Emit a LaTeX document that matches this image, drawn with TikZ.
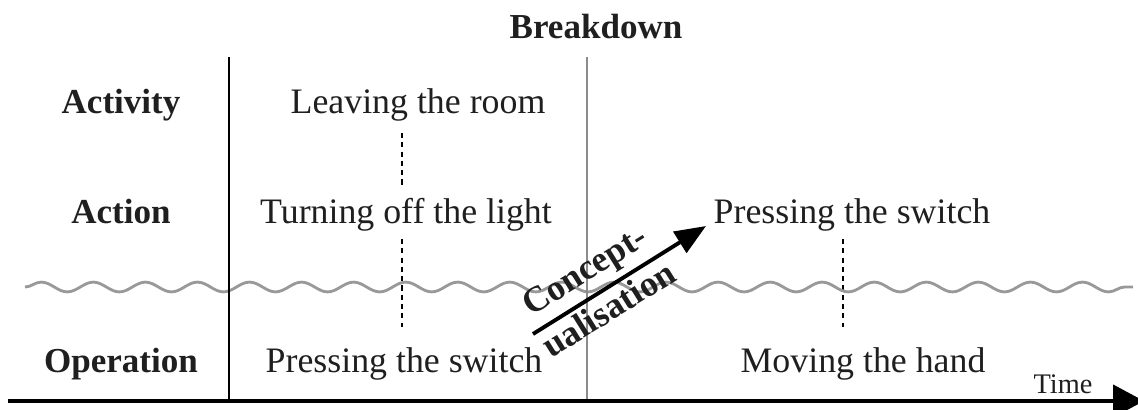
\documentclass[tikz,border=0pt]{standalone}
\usepackage{fontspec}
\setmainfont{Liberation Serif}
\usepackage{tikz}
\usetikzlibrary{decorations.pathmorphing,arrows.meta}

\begin{document}
\begin{tikzpicture}[x=0.388pt,y=-0.388pt,
                        every node/.style={font=\fontsize{13.9}{16.5}\selectfont, text=black!88},
                        lbl/.style={font=\fontsize{13.6}{16.5}\selectfont\bfseries},
                        sep/.style={dash pattern=on 2pt off 1.6pt, line width=0.8pt}]
                        \useasboundingbox (0,0) rectangle (1138,409);

                        % levels on the left
                        \node[lbl, anchor=base] (act) at (121,113) {Activity};
                        \node[lbl, anchor=base] (acn) at (121,223) {Action};
                        \node[lbl, anchor=base] (op) at (121,372) {Operation};
                        \node[lbl, anchor=base] (bd) at (596,38) {Breakdown};

                        % before the breakdown
                        \node[anchor=base] (l1) at (418,113) {Leaving the room};
                        \node[anchor=base] (l2) at (406,223) {Turning off the light};
                        \node[anchor=base] (l3) at (404,372) {Pressing the switch};

                        % after the breakdown
                        \node[anchor=base] (r2) at (852,223) {Pressing the switch};
                        \node[anchor=base] (r3) at (863,372) {Moving the hand};

                        \coordinate (d1) at (402,133);
                        \coordinate (d2) at (402,188);
                        \coordinate (d3) at (402,239);
                        \coordinate (d4) at (402,327);
                        \coordinate (d5) at (843,239);
                        \coordinate (d6) at (843,327);
                        \path[sep] (d1) edge (d2)
                        (d3) edge (d4)
                        (d5) edge (d6);

                        % the wavy line
                        \coordinate (w0) at (25,287);
                        \coordinate (w1) at (1133,287);
                        \draw[black!40, line width=1.1pt, decorate,
                        decoration={snake, segment length=20.2pt, amplitude=1.9pt}] (w0) -- (w1);

                        % columns and time axis
                        \coordinate (t0) at (8,401);
                        \coordinate (t1) at (1144,401);
                        \coordinate (c1) at (229,57);
                        \coordinate (c2) at (587,57);
                        \draw[line width=1.1pt] (c1) -- (c1 |- t0);
                        \draw[black!45, line width=1.1pt] (c2) -- (c2 |- t0);
                        \draw[line width=1.3pt, -{Triangle[length=12pt, width=12.5pt]}] (t0) -- (t1);
                        \node[anchor=base, font=\fontsize{11}{13}\selectfont] (tm) at (1063,393) {Time};

                        % conceptualisation arrow
                        \coordinate (a0) at (533,334);
                        \coordinate (a1) at (706,226);
                        \draw[line width=1.5pt, -{Triangle[length=12pt, width=9.5pt]}] (a0) -- (a1)
                        node[pos=0.39, sloped, align=center, lbl, xshift=-0.9pt, yshift=1.6pt,
                        font=\fontsize{13.9}{18}\selectfont\bfseries] (cp) {Concept-\\ualisation};
                    \end{tikzpicture}
\end{document}
